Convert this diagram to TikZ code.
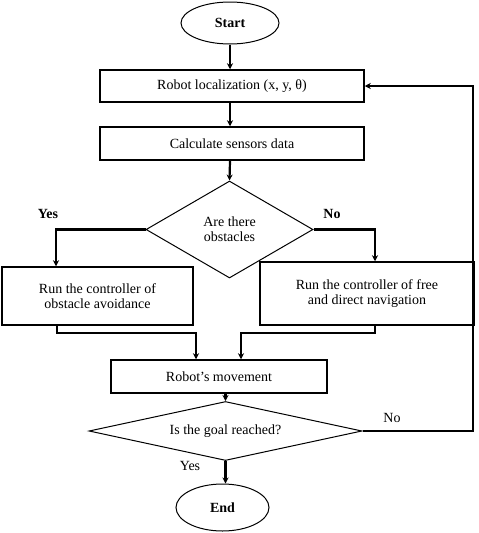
\documentclass[tikz,border=0pt]{standalone}
\usepackage{fontspec}
\setmainfont{Liberation Serif}
\usetikzlibrary{arrows.meta,shapes.geometric}
\newcommand{\flowfont}{\fontsize{14}{15}\selectfont}
\tikzset{
  term/.style={draw, ellipse, line width=1pt, inner sep=0pt, font=\flowfont\bfseries},
  stepbox/.style={draw, line width=1.5pt, inner sep=2pt, align=center},
  test/.style={draw, diamond, line width=1pt, inner sep=0pt, align=center},
  flow/.style={->, line width=2.2pt},
}

\begin{document}
\begin{tikzpicture}[x=1pt, y=-1pt, >={Stealth[length=6pt,width=6pt]}, font=\flowfont]
    \useasboundingbox (0,0) rectangle (479,533);

    % nodes of the flow
    \node[term, minimum width=98pt, minimum height=42pt] (start) at (230,23) {Start};
    \node[stepbox, minimum width=264pt, minimum height=32pt] (loc) at (232,86) {Robot localization (x, y, θ)};
    \node[stepbox, minimum width=264pt, minimum height=33pt] (sens) at (232,143.5) {Calculate sensors data};
    \node[test, aspect=1.72, minimum width=167pt, minimum height=97pt] (obst) at (229.5,229.5) {Are there\\obstacles};
    \node[stepbox, minimum width=191pt, minimum height=58pt] (avoid) at (97.5,296) {Run the controller of\\obstacle avoidance};
    \node[stepbox, minimum width=214pt, minimum height=63pt] (free) at (367,293.5) {Run the controller of free\\and direct navigation};
    \node[stepbox, minimum width=216pt, minimum height=33pt] (move) at (219,376.5) {Robot's movement};
    \node[test, aspect=4.6, minimum width=273pt, minimum height=59pt] (goal) at (225.5,431) {Is the goal reached?};
    \node[term, minimum width=93pt, minimum height=47pt] (end) at (222.5,507.5) {End};

    % turning points
    \coordinate (yesturn) at (56,229.5);
    \coordinate (noturn) at (375,229.5);
    \coordinate (ajoin) at (57,333);
    \coordinate (ain) at (196,333);
    \coordinate (fjoin) at (375,333);
    \coordinate (fin) at (241,333);
    \coordinate (back) at (473,431);

    % connectors
    \draw[flow] (start.south) -- (start.south |- loc.north);
    \draw[flow] (loc.south -| start) -- (sens.north -| start);
    \draw[flow] (sens.south -| start) -- (obst.north);
    \draw[flow] (obst.west) -- (yesturn) -- (yesturn |- avoid.north);
    \draw[flow] (obst.east) -- (noturn) -- (noturn |- free.north);
    \draw[flow] (ajoin |- avoid.south) -- (ajoin) -- (ain) -- (ain |- move.north);
    \draw[flow] (fjoin |- free.south) -- (fjoin) -- (fin) -- (fin |- move.north);
    \draw[flow] (move.south -| goal.north) -- (goal.north);
    \draw[flow] (goal.east) -- (back) -- (back |- loc.east) -- (loc.east);
    \draw[flow] (goal.south) -- (goal.south |- end.north);

    % branch labels
    \node[font=\flowfont\bfseries] (yes1) at (48,214) {Yes};
    \node[font=\flowfont\bfseries] (no1) at (332,214) {No};
    \node (no2) at (392,418) {No};
    \node (yes2) at (190,466) {Yes};
\end{tikzpicture}
\end{document}
